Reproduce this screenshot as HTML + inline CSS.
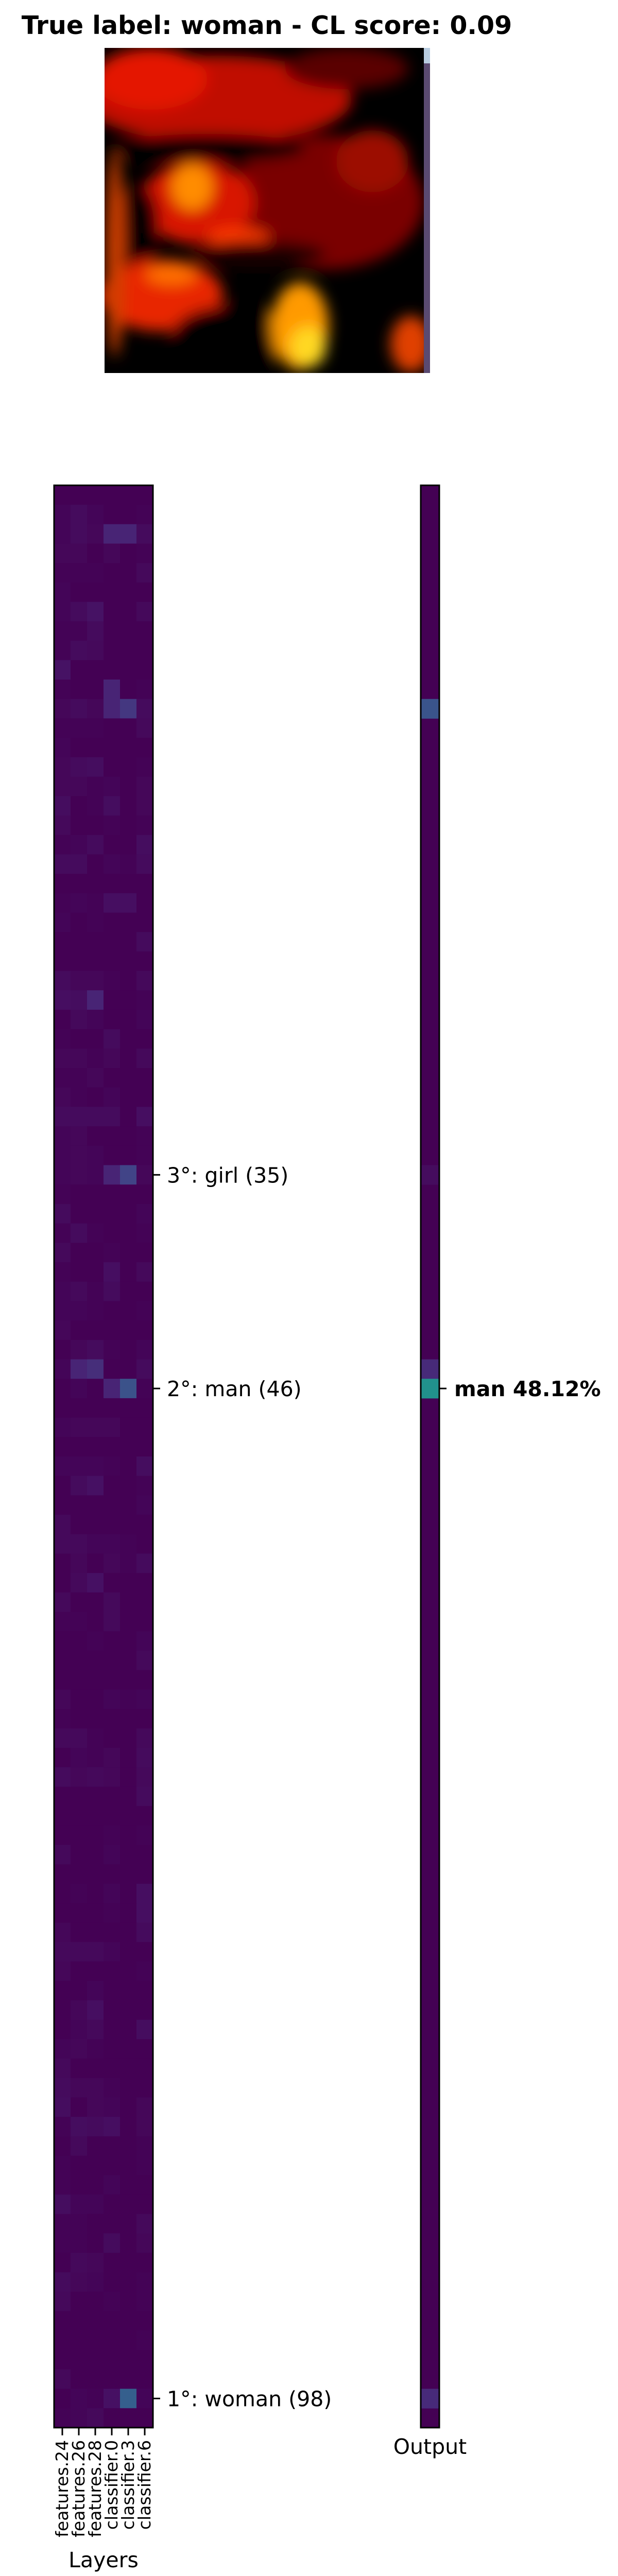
<!DOCTYPE html>
<html><head><meta charset="utf-8"><style>
html,body{margin:0;padding:0;background:#fff;width:1200px;height:5021px;overflow:hidden;}
svg{display:block;font-family:"DejaVu Sans","Liberation Sans",sans-serif;}
</style></head><body>
<svg id="chart" width="1200" height="5021" viewBox="0 0 1200 5021" overflow="hidden">
<defs>
<filter id="blur" x="-20%" y="-20%" width="140%" height="140%"><feGaussianBlur stdDeviation="14"/></filter>
<clipPath id="imgclip"><rect x="0" y="0" width="632" height="631"/></clipPath>
</defs>
<text x="518" y="66" font-size="49" font-weight="bold" text-anchor="middle">True label: woman - CL score: 0.09</text>
<g transform="translate(203,93)" clip-path="url(#imgclip)">
<rect width="632" height="631" fill="#000"/>
<g filter="url(#blur)">
<ellipse cx="220" cy="100" rx="260" ry="85" fill="#c00a00"/>
<ellipse cx="90" cy="60" rx="110" ry="60" fill="#e41500"/>
<ellipse cx="470" cy="40" rx="120" ry="40" fill="#5a0000"/>
<ellipse cx="430" cy="300" rx="190" ry="130" fill="#7a0600"/>
<ellipse cx="520" cy="220" rx="70" ry="60" fill="#9c0c00"/>
<ellipse cx="200" cy="195" rx="190" ry="28" fill="#000"/>
<ellipse cx="180" cy="300" rx="110" ry="80" fill="#d81800"/>
<ellipse cx="170" cy="270" rx="40" ry="45" fill="#ff8c00"/>
<ellipse cx="65" cy="345" rx="40" ry="80" fill="#000"/>
<ellipse cx="260" cy="370" rx="60" ry="20" fill="#ff3a00"/>
<ellipse cx="300" cy="400" rx="130" ry="25" fill="#1a0000"/>
<ellipse cx="110" cy="480" rx="120" ry="70" fill="#e82800"/>
<ellipse cx="130" cy="440" rx="50" ry="20" fill="#ff7000"/>
<ellipse cx="250" cy="560" rx="120" ry="60" fill="#000"/>
<ellipse cx="380" cy="540" rx="55" ry="85" fill="#ff9a00"/>
<ellipse cx="395" cy="580" rx="35" ry="40" fill="#ffd820"/>
<ellipse cx="595" cy="575" rx="40" ry="55" fill="#e04000"/>
<ellipse cx="20" cy="400" rx="18" ry="200" fill="#d04000"/>
</g>
<rect x="620" y="0" width="12" height="631" fill="#5a4a70"/>
<rect x="620" y="0" width="12" height="30" fill="#b8cce0"/>
</g>
<g id="heat"></g>
<g id="out"></g>
<g id="axes"></g>
</svg>
<script>
// ---- data ----
const layerNames = ["features.24","features.26","features.28","classifier.0","classifier.3","classifier.6"];
const rankLabels = ["1°: woman (98)","2°: man (46)","3°: girl (35)"];
const rankRows = [98,46,35];
const outputLabel = "man 48.12%";
const outputRow = 46;
const outputRows = [11,35,45,46,98];
const outputVals = [0.26,0.03,0.12,0.5,0.12];
const heatValues = [
[0,0,0,0,0,0],[.02,.05,.02,0,0,.01],[.02,.05,.03,.1,.1,.05],[.03,.03,0,.03,0,.01],[.01,.01,.01,0,0,.04],
[.02,0,0,0,0,0],[.02,.05,.09,0,0,.04],[.01,.01,.05,0,0,0],[.01,.05,.04,0,0,0],[.09,0,0,0,0,0],
[.01,0,0,.1,0,.01],[.03,.05,.03,.1,.16,.05],[.01,.01,.01,0,0,.04],[.02,0,0,0,0,0],[.03,.05,.06,0,0,.01],
[.03,.03,.01,.02,0,.03],[.06,0,.01,.06,0,.03],[.04,0,0,.01,0,.01],[.01,.02,.05,0,0,.06],[.05,.05,0,.02,.01,.05],
[0,0,0,0,0,0],[.01,.02,.01,.07,.07,0],[.02,0,.01,0,0,0],[0,0,0,0,0,.05],[0,0,0,0,0,0],
[.05,.03,.03,.01,0,.04],[.07,.06,.1,0,0,.01],[0,.04,.02,0,0,.02],[.01,0,0,.05,0,0],[.03,.03,.01,.03,0,.04],
[.01,.01,.03,0,0,0],[.03,.01,0,.02,0,0],[.05,.05,.05,.05,0,.07],[.02,.03,0,0,0,.01],[.02,.03,.02,0,0,.01],
[.02,.03,.02,.1,.2,.03],[.01,0,0,0,0,0],[.05,0,0,0,0,.02],[.01,.05,.01,0,0,.01],[.04,0,0,.01,0,0],
[.01,0,0,.07,0,.04],[.02,.04,.01,.05,0,0],[.02,.02,.01,0,0,.01],[.03,0,0,0,0,0],[0,.03,.05,.01,0,.02],
[.02,.1,.13,0,0,.05],[0,.02,0,.1,.25,.01],[0,0,0,0,0,0],[.02,.03,.03,.03,0,0],[0,0,0,0,0,0],
[.02,.02,.02,.01,0,.06],[0,.05,.08,0,0,.01],[0,0,0,0,0,.02],[.04,0,0,0,0,0],[.04,.04,.02,.02,.01,0],
[0,.03,0,.03,.01,.05],[0,.04,.08,0,0,0],[.04,0,0,.04,0,0],[.01,.01,0,.04,0,0],[0,0,.01,0,0,.02],
[0,0,0,0,0,.04],[0,0,0,0,0,0],[.03,0,0,.02,.01,.02],[.01,0,0,0,0,0],[.04,.04,.01,0,0,.04],
[0,.02,.01,.03,0,.05],[.05,.03,.04,.03,0,.04],[0,0,0,0,0,.05],[0,0,0,0,0,0],[0,0,0,.01,0,.01],
[.04,0,0,.02,0,0],[0,0,0,0,0,0],[0,.01,0,.02,0,.07],[0,0,0,.01,0,.07],[.03,0,0,0,0,.05],
[.04,.04,.04,.02,0,0],[.03,0,0,0,0,.01],[0,0,.02,0,0,0],[0,.03,.07,0,0,0],[0,.02,.04,0,0,.06],
[.02,.03,.01,0,0,0],[.04,0,0,0,0,0],[.05,.03,.03,.01,0,0],[.06,0,.03,.02,0,.03],[.01,.06,.05,.07,0,.03],
[0,.04,0,0,0,.01],[.01,0,0,0,0,.01],[.01,0,0,.02,0,0],[.06,.02,.02,0,0,0],[.01,.01,0,0,0,.04],
[.01,.01,0,.05,0,.03],[0,.04,.03,0,0,0],[.05,.03,.02,0,0,.01],[.04,0,0,.01,0,.01],[0,0,0,0,0,0],
[0,0,0,0,0,.01],[0,0,0,0,0,0],[.04,0,0,0,0,0],[0,.02,.01,.08,.3,.02],[.01,.02,.04,0,0,0]
];
// ---- layout / scales ----
const NS="http://www.w3.org/2000/svg";
const HX0=105,HX1=297,HY0=942,HY1=4712,OX0=817,OX1=853;
const nRows=heatValues.length, nCols=layerNames.length;
const yScale=r=>HY0+(HY1-HY0)*r/nRows;
const xScale=c=>HX0+(HX1-HX0)*c/nCols;
const vir=[[0,[68,1,84]],[.1,[72,36,117]],[.2,[65,68,135]],[.3,[53,95,141]],[.4,[42,120,142]],[.5,[33,145,140]],[.6,[34,168,132]],[.7,[68,191,112]],[.8,[122,209,81]],[.9,[189,223,38]],[1,[253,231,37]]];
function color(v){v=Math.max(0,Math.min(1,v));for(let i=1;i<vir.length;i++){if(v<=vir[i][0]){const a=vir[i-1],b=vir[i],t=(v-a[0])/(b[0]-a[0]);return "rgb("+a[1].map((x,k)=>Math.round(x+(b[1][k]-x)*t)).join(",")+")";}}return "rgb(253,231,37)";}
function cellColor(v){return color(v<0.1 ? v*0.55 : v);}
function mk(tag,attrs,parent){const e=document.createElementNS(NS,tag);for(const k in attrs)e.setAttribute(k,attrs[k]);parent.appendChild(e);return e;}
const heat=document.getElementById('heat'),out=document.getElementById('out'),axes=document.getElementById('axes');
heatValues.forEach((row,r)=>row.forEach((v,c)=>{
  const y0=yScale(r),y1=yScale(r+1);
  const el=mk('rect',{x:xScale(c),y:y0,width:xScale(c+1)-xScale(c)+0.5,height:y1-y0+0.5,fill:cellColor(v)},heat);
  
  
}));
const bg=mk('rect',{x:OX0,y:HY0,width:OX1-OX0,height:HY1-HY0,fill:color(0)},out);


outputRows.forEach((r,i)=>{
  const el=mk('rect',{x:OX0,y:yScale(r),width:OX1-OX0,height:yScale(r+1)-yScale(r)+0.5,fill:color(outputVals[i])},out);
  
  
});
const f1=mk('rect',{x:HX0,y:HY0,width:HX1-HX0,height:HY1-HY0,fill:'none',stroke:'#000','stroke-width':3},axes);


const f2=mk('rect',{x:OX0,y:HY0,width:OX1-OX0,height:HY1-HY0,fill:'none',stroke:'#000','stroke-width':3},axes);


rankRows.forEach((r,i)=>{
  const y=(yScale(r)+yScale(r+1))/2;
  const t=mk('line',{x1:HX1,x2:HX1+14,y1:y,y2:y,stroke:'#000','stroke-width':3},axes);
  
  
  const tx=mk('text',{x:HX1+27,y:y+15,'font-size':41},axes);
  tx.textContent=rankLabels[i];
  
  
});
{
  const y=(yScale(outputRow)+yScale(outputRow+1))/2;
  const t=mk('line',{x1:OX1,x2:OX1+14,y1:y,y2:y,stroke:'#000','stroke-width':3},axes);
  
  
  const tx=mk('text',{x:OX1+29,y:y+15,'font-size':41,'font-weight':'bold'},axes);
  tx.textContent=outputLabel;
  
  
}
layerNames.forEach((n,c)=>{
  const x=(xScale(c)+xScale(c+1))/2;
  const t=mk('line',{x1:x,x2:x,y1:HY1,y2:HY1+15,stroke:'#000','stroke-width':3},axes);
  
  
  const tx=mk('text',{x:0,y:0,'font-size':33,'text-anchor':'end',transform:'translate('+(x+11)+','+(HY1+24)+') rotate(-90)'},axes);
  tx.textContent=n;
  
  
});
const lx=mk('text',{x:(HX0+HX1)/2,y:4983,'font-size':41,'text-anchor':'middle'},axes);
lx.textContent='Layers';


const ox=mk('text',{x:(OX0+OX1)/2,y:4763,'font-size':41,'text-anchor':'middle'},axes);
ox.textContent='Output';


</script>
</body></html>
